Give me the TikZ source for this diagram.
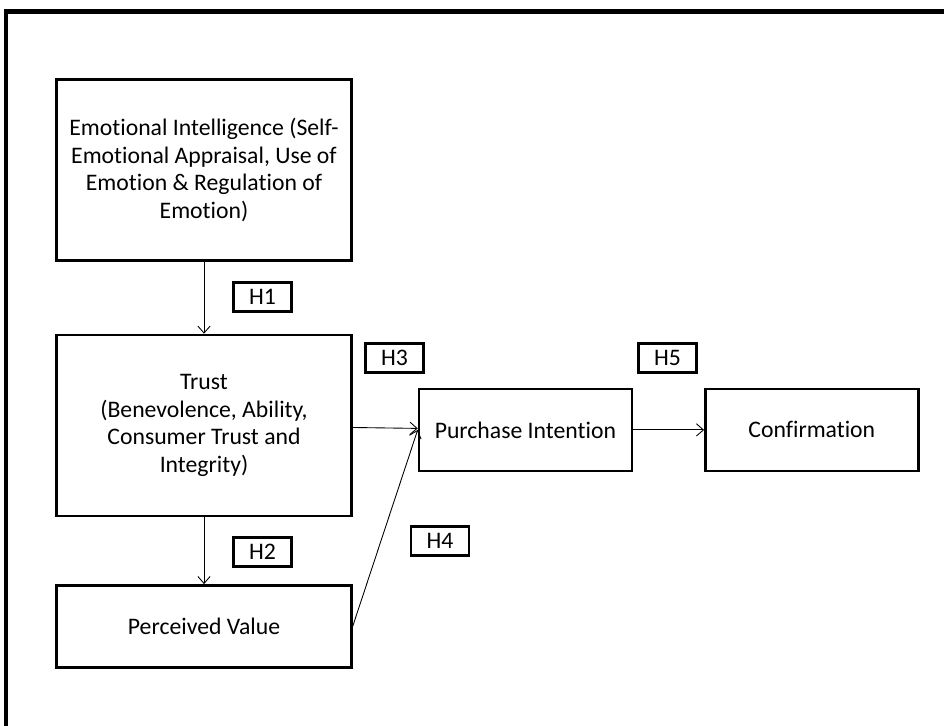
\documentclass[tikz,border=0pt]{standalone}
\usepackage{fontspec}
\setmainfont{Carlito}[Ligatures=NoCommon]
\usetikzlibrary{arrows.meta, positioning}
\tikzset{
  cbox/.style={
    rectangle, draw=black, line width=1.4pt, align=center,
    inner sep=2pt, font=\fontsize{13.5}{15.9}\selectfont
  },
  hbox/.style={
    rectangle, draw=black, line width=1.4pt, align=center,
    minimum width=1.16cm, minimum height=0.58cm, inner sep=0pt,
    font=\fontsize{13.5}{15}\selectfont
  },
  link/.style={-{Straight Barb[length=4pt, width=7pt]}, line width=0.5pt}
}

\begin{document}
\begin{tikzpicture}[x=0.02cm, y=-0.02cm]
  \useasboundingbox (0,0) rectangle (944,726);
  % outer frame
  \draw[line width=2.3pt] (6,760) |- (980,11.5);

  \node[cbox, minimum width=5.9cm, minimum height=3.62cm] (emo) at (204,170)
    {Emotional Intelligence (Self-\\
     Emotional Appraisal, Use of\\
     Emotion \& Regulation of\\
     Emotion)};
  \node[cbox, minimum width=5.9cm, minimum height=3.62cm,
        below=1.44cm of emo] (trust)
    {Trust\\
     (Benevolence, Ability,\\
     Consumer Trust and\\
     Integrity)};
  \node[cbox, minimum width=5.9cm, minimum height=1.64cm,
        below=1.34cm of trust] (value)
    {Perceived Value};
  \node[cbox, minimum width=4.26cm, minimum height=1.64cm,
        right=1.3cm of trust, yshift=-0.09cm] (intent)
    {Purchase Intention};
  \node[cbox, minimum width=4.26cm, minimum height=1.64cm,
        right=1.42cm of intent] (confirm)
    {Confirmation};

  % hypothesis labels
  \node[hbox] (h1) at (262.5,297) {H1};
  \node[hbox] (h2) at (262.5,552) {H2};
  \node[hbox] (h3) at (394.5,358) {H3};
  \node[hbox] (h4) at (440,541) {H4};
  \node[hbox] (h5) at (667.5,358) {H5};

  \draw[link] (emo) -- (trust);
  \draw[link] (trust) -- (value);
  \draw[link] (trust) -- (intent);
  \draw[link] (value.east) -- (intent.west);
  \draw[link] (intent) -- (confirm);
\end{tikzpicture}
\end{document}
